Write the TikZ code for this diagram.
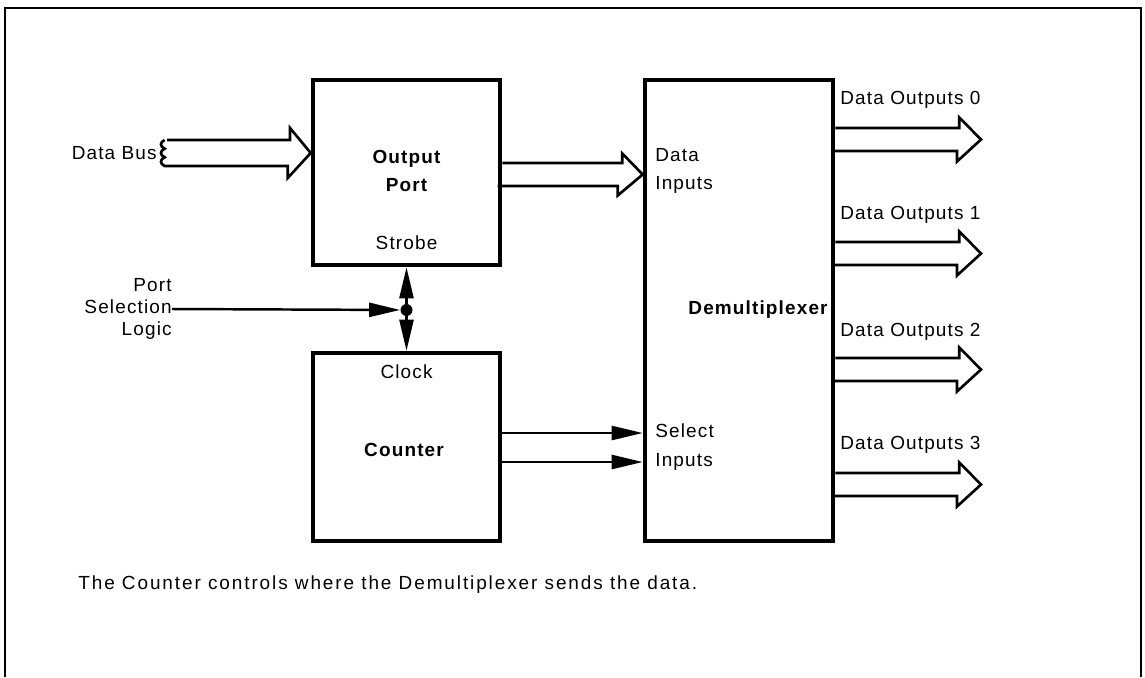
\documentclass[tikz,border=0pt]{standalone}
\usepackage{fontspec}
\setmainfont{Liberation Sans}[LetterSpace=6]
\usetikzlibrary{arrows.meta,fit,calc}
\begin{document}
\begin{tikzpicture}[x=0.02cm,y=-0.02cm,
  box/.style={draw,line width=2.6pt,inner sep=0pt},
  lbl/.style={font=\fontsize{10.8}{13}\selectfont,inner sep=0pt},
  blbl/.style={inner sep=0pt,font=\fontsize{10.8}{16}\selectfont\bfseries},
  busline/.style={line width=1.5pt,line join=miter},
  sig/.style={line width=1.4pt,-{Triangle[length=0.62cm,width=0.28cm]}},
  dot/.style={circle,fill,inner sep=0pt,minimum size=0.24cm}]
\useasboundingbox (0,0) rectangle (1145,677);
\draw[line width=1.4pt] (5,677) -- (5,8) -- (1141,8) -- (1141,677);
% boxes
\node[box,fit={(313,80)(500,265)}] (op) {};
\node[box,fit={(313,353)(500,541)}] (ctr) {};
\node[box,fit={(645,80)(833,541)}] (dmx) {};
% box texts
\node[blbl,align=center] (opt) at (406.5,171) {Output\\Port};
\node[lbl] (strobe) at (406.5,243) {Strobe};
\node[lbl] (clock) at (406.5,372) {Clock};
\node[blbl] (ctrt) at (404,450) {Counter};
\node[blbl] (dmxt) at (758,310) {Demultiplexer};
\node[lbl,align=left,anchor=west,font=\fontsize{10.8}{15.5}\selectfont] (din) at (655,171) {Data\\Inputs};
\node[lbl,align=left,anchor=west,font=\fontsize{10.8}{16.5}\selectfont] (sin) at (655,447) {Select\\Inputs};
% outside labels
\node[lbl,anchor=east] (db) at (157,153) {Data Bus};
\node[lbl,align=right,anchor=east,font=\fontsize{10.8}{12.5}\selectfont] (psl) at (172,309) {Port\\Selection\\Logic};
\node[lbl,anchor=west] (l0) at (840,100) {Data Outputs 0};
\node[lbl,anchor=west] (l1) at (840,215) {Data Outputs 1};
\node[lbl,anchor=west] (l2) at (840,332) {Data Outputs 2};
\node[lbl,anchor=west] (l3) at (840,445) {Data Outputs 3};
\node[lbl,anchor=west] (cap) at (78,585) {\addfontfeature{LetterSpace=10}The Counter controls where the Demultiplexer sends the data.};
% junction and control lines
\node[dot] (j) at (406.5,310) {};
\draw[sig] (psl.east) -- (j);
\draw[sig] (j) -- (op.south);
\draw[sig] (j) -- (ctr.north);
\coordinate (s1) at (0,433);
\coordinate (s2) at (0,462);
\draw[sig] (ctr.east |- s1) -- (dmx.west |- s1);
\draw[sig] (ctr.east |- s2) -- (dmx.west |- s2);
% data bus hollow arrow
\coordinate (dbt) at (167,153);
\draw[busline] (dbt) ++(0,-13) -- ++(123,0) -- ++(0,-12) -- (op.west |- dbt) -- ++(-23,25) -- ++(0,-12) -- ++(-123,0)
  .. controls +(-5,-2) and +(-5,2) .. ++(0,-8.7)
  .. controls +(-5,-2) and +(-5,2) .. ++(0,-8.6)
  .. controls +(-5,-2) and +(-5,2) .. ++(0,-8.7);
% data inputs hollow arrow
\coordinate (di) at (0,174.5);
\draw[busline] (op.east |- di) ++(0,-11.5) -- ++(120,0) -- ++(0,-9.5) -- (dmx.west |- di) -- ++(-25,21) -- ++(0,-9.5) -- ++(-120,0);
% data outputs hollow arrows
\foreach \c/\n in {139.5/0,253.5/1,369.5/2,484.5/3}{
  \coordinate (t\n) at (981,\c);
  \draw[busline] (dmx.east |- t\n) ++(0,-11.5) -- ++(124,0) -- ++(0,-10.5) -- (t\n) -- ++(-24,22) -- ++(0,-10.5) -- ++(-124,0);
}
\end{tikzpicture}
\end{document}
